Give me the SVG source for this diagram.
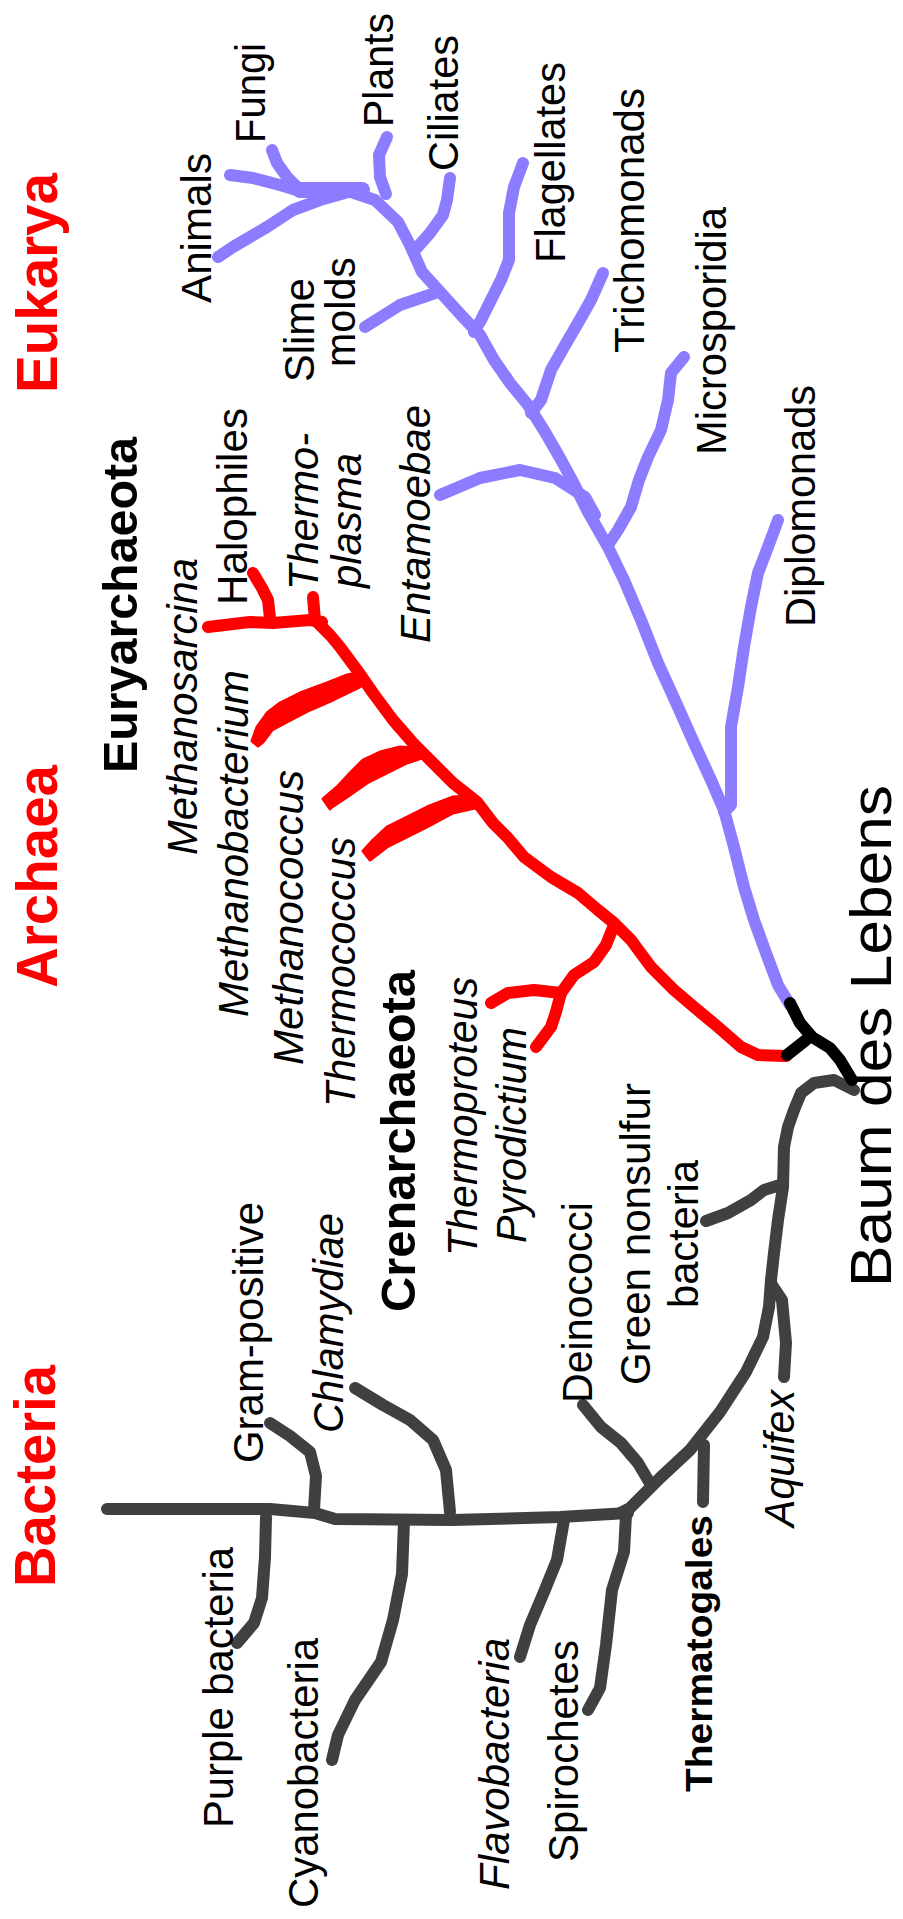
<svg xmlns="http://www.w3.org/2000/svg" width="903" height="1919" viewBox="0 0 903 1919">
<style>
.br{fill:none;stroke-width:12;stroke-linecap:round;stroke-linejoin:round}
.euk{stroke:#8c7cff}
.arc{stroke:#ff0000}
.bac{stroke:#404040}
.root{stroke:#000000}
.wedge{fill:#ff0000;stroke:#ff0000;stroke-width:3}
text{font-family:"Liberation Sans",Arial,Helvetica,sans-serif;fill:#000;font-size:42px}
.t{fill:#ff0000;font-weight:bold;font-size:57px}
.b{font-weight:bold;font-size:48px}
.i{font-style:italic}
</style>
<rect width="903" height="1919" fill="#ffffff"/>
<g id="connectors">
  <g id="bacteria-tree" class="br bac">
    <path d="M854,1090 L834,1080 L814,1083 L801,1093 L794,1110 L788,1127 L784,1147 L783,1187 L778,1220 L774,1253 L771,1280 L769,1307 L763,1337 L746,1372 L720,1412 L690,1450 L660,1478 L630,1508 L620,1513"/>
    <path d="M107,1509 L270,1509 L315,1513 L335,1519 L452,1520 L560,1517 L628,1513"/>
    <path d="M706,1221 L728,1213 L751,1200 L764,1190 L780,1185"/>
    <path d="M772,1285 L782,1300 L786,1343 L784,1377"/>
    <path d="M704,1445 L703,1502"/>
    <path d="M583,1405 L601,1427 L621,1443 L638,1463 L651,1485"/>
    <path d="M270,1423 L290,1436 L310,1452 L316,1476 L314,1510"/>
    <path d="M355,1388 L383,1405 L410,1420 L433,1440 L446,1470 L450,1512"/>
    <path d="M266,1517 L265,1557 L262,1598 L254,1623 L237,1643"/>
    <path d="M404,1522 L402,1574 L393,1620 L381,1662 L355,1700 L338,1735 L332,1760"/>
    <path d="M564,1520 L557,1560 L544,1592 L530,1625 L520,1657"/>
    <path d="M626,1515 L624,1552 L612,1590 L606,1645 L600,1688 L588,1710"/>
  </g>
  <g id="eukarya-tree" class="br euk">
    <path d="M345,190 L375,200 L398,222 L410,245 L422,272 L442,294 L462,316 L480,335 L494,360 L510,383 L528,405 L545,432 L560,458 L573,482 L588,512 L608,547 L624,580 L641,620 L658,663 L678,707 L694,743 L711,780 L724,810 L734,847 L744,887 L754,920 L766,953 L778,985 L790,1005"/>
    <path d="M300,190 L362,190" stroke-width="16"/>
    <path d="M218,257 L233,247 L267,227 L293,210 L320,200 L345,193"/>
    <path d="M230,175 L253,178 L280,185 L303,192"/>
    <path d="M272,150 L277,163 L287,177 L300,190"/>
    <path d="M387,137 L379,155 L380,177 L386,194"/>
    <path d="M450,178 L447,200 L443,215 L430,233 L415,250"/>
    <path d="M365,327 L400,305 L438,292"/>
    <path d="M523,163 L514,187 L509,213 L509,260 L501,280 L491,300 L481,320 L474,332"/>
    <path d="M603,273 L591,300 L578,323 L564,347 L551,370 L541,400 L531,413"/>
    <path d="M684,357 L671,373 L668,400 L661,430 L648,457 L639,480 L631,507 L618,530 L608,545"/>
    <path d="M440,495 L480,478 L520,470 L555,478 L585,497 L595,515"/>
    <path d="M778,520 L768,547 L758,573 L751,607 L744,647 L738,687 L731,727 L731,763 L731,805 L724,812"/>
  </g>
  <g id="archaea-tree" class="br arc">
    <path d="M315,620 L330,635 L340,647 L357,670 L373,693 L393,720 L413,743 L433,763 L453,783 L477,802 L493,823 L508,838 L524,857 L551,877 L578,893 L598,910 L614,923 L631,940 L651,967 L674,990 L694,1007 L718,1027 L741,1047 L758,1055 L786,1056"/>
    <path d="M208,627 L233,624 L250,622 L273,623 L310,620 L322,622"/>
    <path d="M253,573 L262,588 L268,600 L270,618"/>
    <path d="M313,597 L315,620"/>
    <path d="M614,925 L606,945 L594,962 L574,975 L561,993 L534,990 L508,993 L491,1003"/>
    <path d="M561,993 L556,1012 L551,1027 L536,1047"/>
    <path class="wedge" d="M357,673 L347,675 L327,683 L300,693 L280,703 L267,713 L257,727 L252,741 L258,746 L263,742 L272,730 L287,722 L310,710 L333,700 L360,687 Z"/>
    <path class="wedge" d="M415,748 L400,747 L380,752 L363,760 L350,773 L337,787 L323,799 L330,809 L332,807 L347,797 L367,783 L387,773 L407,763 L422,758 Z"/>
    <path class="wedge" d="M470,796 L453,797 L427,807 L407,817 L387,827 L373,840 L363,851 L370,860 L387,847 L407,837 L427,827 L453,813 L475,808 Z"/>
  </g>
  <g id="root" class="br root">
    <path d="M790,1003 L800,1023 L812,1037 L830,1048 L840,1060 L852,1080"/>
    <path d="M806,1040 L787,1055"/>
  </g>
</g>
<g id="domains">
  <g id="eukarya"><text class="t" transform="translate(57,393) rotate(-90)" textLength="220" lengthAdjust="spacingAndGlyphs">Eukarya</text></g>
  <g id="archaea"><text class="t" transform="translate(57,988) rotate(-90)" textLength="223" lengthAdjust="spacingAndGlyphs">Archaea</text></g>
  <g id="bacteria"><text class="t" transform="translate(55,1587) rotate(-90)" textLength="222" lengthAdjust="spacingAndGlyphs">Bacteria</text></g>
  <g id="baum"><text transform="translate(891,1287) rotate(-90)" style="font-size:57px" textLength="502" lengthAdjust="spacingAndGlyphs">Baum des Lebens</text></g>
</g>
<g id="labels">
  <g id="animals"><text transform="translate(211,303) rotate(-90)" textLength="150" lengthAdjust="spacingAndGlyphs">Animals</text></g>
  <g id="fungi"><text transform="translate(265,143) rotate(-90)" textLength="100" lengthAdjust="spacingAndGlyphs">Fungi</text></g>
  <g id="plants"><text transform="translate(393,127) rotate(-90)" textLength="114" lengthAdjust="spacingAndGlyphs">Plants</text></g>
  <g id="ciliates"><text transform="translate(458,171) rotate(-90)" textLength="136" lengthAdjust="spacingAndGlyphs">Ciliates</text></g>
  <g id="slime-molds">
    <text transform="translate(314,382) rotate(-90)" textLength="104" lengthAdjust="spacingAndGlyphs">Slime</text>
    <text transform="translate(355,367) rotate(-90)" textLength="110" lengthAdjust="spacingAndGlyphs">molds</text>
  </g>
  <g id="flagellates"><text transform="translate(565,263) rotate(-90)" textLength="201" lengthAdjust="spacingAndGlyphs">Flagellates</text></g>
  <g id="trichomonads"><text transform="translate(644,353) rotate(-90)" textLength="265" lengthAdjust="spacingAndGlyphs">Trichomonads</text></g>
  <g id="microsporidia"><text transform="translate(726,455) rotate(-90)" textLength="248" lengthAdjust="spacingAndGlyphs">Microsporidia</text></g>
  <g id="diplomonads"><text transform="translate(815,627) rotate(-90)" textLength="242" lengthAdjust="spacingAndGlyphs">Diplomonads</text></g>
  <g id="euryarchaeota"><text class="b" transform="translate(137,773) rotate(-90)" textLength="336" lengthAdjust="spacingAndGlyphs">Euryarchaeota</text></g>
  <g id="methanosarcina"><text class="i" transform="translate(197,855) rotate(-90)" textLength="297" lengthAdjust="spacingAndGlyphs">Methanosarcina</text></g>
  <g id="halophiles"><text transform="translate(247,605) rotate(-90)" textLength="197" lengthAdjust="spacingAndGlyphs">Halophiles</text></g>
  <g id="thermoplasma">
    <text class="i" transform="translate(318,590) rotate(-90)" textLength="157" lengthAdjust="spacingAndGlyphs">Thermo-</text>
    <text class="i" transform="translate(361,588) rotate(-90)" textLength="135" lengthAdjust="spacingAndGlyphs">plasma</text>
  </g>
  <g id="entamoebae"><text class="i" transform="translate(430,643) rotate(-90)" textLength="238" lengthAdjust="spacingAndGlyphs">Entamoebae</text></g>
  <g id="methanobacterium"><text class="i" transform="translate(248,1017) rotate(-90)" textLength="347" lengthAdjust="spacingAndGlyphs">Methanobacterium</text></g>
  <g id="methanococcus"><text class="i" transform="translate(303,1065) rotate(-90)" textLength="295" lengthAdjust="spacingAndGlyphs">Methanococcus</text></g>
  <g id="thermococcus"><text class="i" transform="translate(355,1107) rotate(-90)" textLength="270" lengthAdjust="spacingAndGlyphs">Thermococcus</text></g>
  <g id="crenarchaeota"><text class="b" transform="translate(415,1312) rotate(-90)" textLength="342" lengthAdjust="spacingAndGlyphs">Crenarchaeota</text></g>
  <g id="thermoproteus"><text class="i" transform="translate(477,1256) rotate(-90)" textLength="279" lengthAdjust="spacingAndGlyphs">Thermoproteus</text></g>
  <g id="pyrodictium"><text class="i" transform="translate(526,1243) rotate(-90)" textLength="216" lengthAdjust="spacingAndGlyphs">Pyrodictium</text></g>
  <g id="deinococci"><text transform="translate(592,1403) rotate(-90)" textLength="201" lengthAdjust="spacingAndGlyphs">Deinococci</text></g>
  <g id="green-nonsulfur">
    <text transform="translate(650,1385) rotate(-90)" textLength="302" lengthAdjust="spacingAndGlyphs">Green nonsulfur</text>
    <text transform="translate(698,1308) rotate(-90)" textLength="148" lengthAdjust="spacingAndGlyphs">bacteria</text>
  </g>
  <g id="gram-positive"><text transform="translate(263,1463) rotate(-90)" textLength="261" lengthAdjust="spacingAndGlyphs">Gram-positive</text></g>
  <g id="chlamydiae"><text class="i" transform="translate(343,1433) rotate(-90)" textLength="220" lengthAdjust="spacingAndGlyphs">Chlamydiae</text></g>
  <g id="purple-bacteria"><text transform="translate(233,1828) rotate(-90)" textLength="281" lengthAdjust="spacingAndGlyphs">Purple bacteria</text></g>
  <g id="cyanobacteria"><text transform="translate(318,1908) rotate(-90)" textLength="270" lengthAdjust="spacingAndGlyphs">Cyanobacteria</text></g>
  <g id="flavobacteria"><text class="i" transform="translate(509,1890) rotate(-90)" textLength="252" lengthAdjust="spacingAndGlyphs">Flavobacteria</text></g>
  <g id="spirochetes"><text transform="translate(578,1862) rotate(-90)" textLength="222" lengthAdjust="spacingAndGlyphs">Spirochetes</text></g>
  <g id="thermatogales"><text transform="translate(712,1792) rotate(-90)" style="font-weight:bold;font-size:37px" textLength="277" lengthAdjust="spacingAndGlyphs">Thermatogales</text></g>
  <g id="aquifex"><text class="i" transform="translate(794,1527) rotate(-90)" textLength="137" lengthAdjust="spacingAndGlyphs">Aquifex</text></g>
</g>
</svg>
